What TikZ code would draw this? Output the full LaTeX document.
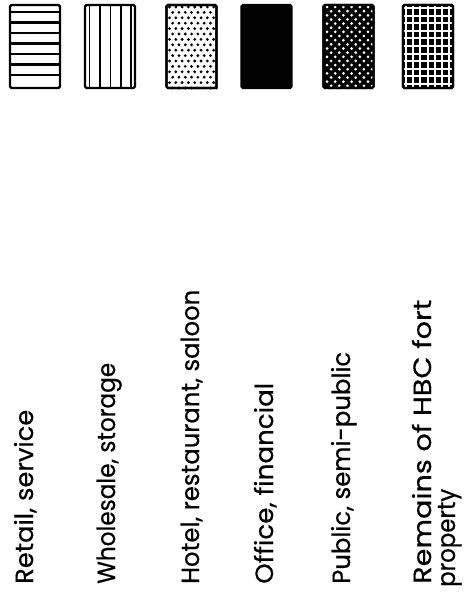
\documentclass[tikz,border=0pt]{standalone}
\usepackage{graphicx}
\usepackage{fontspec}
\setmainfont{Poppins}
\newfontfamily\labfont{Poppins}[FakeBold=0.5]
\newcommand{\fitto}[2]{\resizebox{#1}{\height}{#2}}
\begin{document}
\begin{tikzpicture}[x=1pt,y=-1pt]
\tikzset{
  swatch/.style={draw=black, line width=2.4pt, minimum width=50pt, minimum height=83pt, inner sep=0pt, rounded corners=1.5pt},
  legendtext/.style={rotate=90, anchor=base west, inner sep=0pt, font=\labfont\fontsize{25}{28}\selectfont},
  hatch/.style={line width=2.1pt, black},
  gridline/.style={line width=1.9pt, white},
}
\useasboundingbox (0,0) rectangle (467,599);
\fill[white] (0,0) rectangle (467,599);

% swatch 1: horizontal lines
\node[swatch] (s1) at (35,46.5) {};
\foreach \y in {12,22.5,33,43.5,54,64.5,75}
  \draw[hatch] (s1.west |- 0,\y) -- (s1.east |- 0,\y);

% swatch 2: vertical lines
\node[swatch] (s2) at (110,46.5) {};
\foreach \x in {89.5,100,110.5,121,131}
  \draw[hatch, line width=1.8pt] (\x,0 |- s2.north) -- (\x,0 |- s2.south);

% swatch 3: fine black dots
\node[swatch] (s3) at (191.5,46.5) {};
\begin{scope}
  \clip (s3.south west) rectangle (s3.north east);
  \foreach \r in {0,...,15} {
    \pgfmathsetmacro{\yy}{7+5.4*\r}
    \pgfmathsetmacro{\off}{mod(\r,2)*3.15}
    \foreach \c in {0,...,8}
      \fill[black] (169.5+\off+6.3*\c,\yy) circle (1.55pt);
  }
\end{scope}
\node[swatch] (s3b) at (191.5,46.5) {};

% swatch 4: solid black
\node[swatch, fill=black] (s4) at (266.5,46.5) {};

% swatch 5: black with white dots
\node[swatch, fill=black] (s5) at (348.5,46.5) {};
\begin{scope}
  \clip (s5.south west) rectangle (s5.north east);
  \foreach \r in {0,...,20} {
    \pgfmathsetmacro{\yy}{7+4.15*\r}
    \pgfmathsetmacro{\off}{mod(\r,2)*4.1}
    \foreach \c in {0,...,6}
      \fill[white] (327+\off+8.2*\c,\yy) circle (1.5pt);
  }
\end{scope}
\node[swatch] (s5b) at (348.5,46.5) {};

% swatch 6: black with white grid
\node[swatch, fill=black] (s6) at (428,46.5) {};
\begin{scope}
  \clip (s6.south west) rectangle (s6.north east);
  \foreach \x in {406,413.2,420.4,427.6,434.8,442,449.2}
    \draw[gridline] (\x,0 |- s6.north) -- (\x,0 |- s6.south);
  \foreach \i in {0,...,10}
    \draw[gridline] (s6.west |- 0,{8+7.6*\i}) -- (s6.east |- 0,{8+7.6*\i});
\end{scope}
\node[swatch] (s6b) at (428,46.5) {};

% labels
\node[legendtext] (t1) at (33,584) {\fitto{174pt}{Retail, service}};
\node[legendtext] (t2) at (115,584) {\fitto{221pt}{Wholesale, storage}};
\node[legendtext] (t3) at (199,584) {\fitto{294pt}{Hotel, restaurant, saloon}};
\node[legendtext] (t4) at (273,584) {\fitto{201pt}{Office, financial}};
\node[legendtext] (t5) at (350,584) {\fitto{232pt}{Public, semi-public}};
\node[legendtext] (t6) at (431,584) {\fitto{284pt}{Remains of HBC fort}};
\node[legendtext] (t7) at (455,587) {\fitto{98pt}{property}};
\end{tikzpicture}
\end{document}
